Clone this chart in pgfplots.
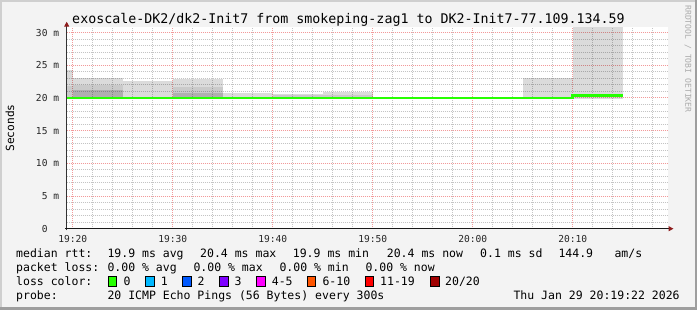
\documentclass[border=0pt]{standalone}
\usepackage{fontspec}
\setmainfont{DejaVu Sans Mono}
\usepackage{pgfplots}
\pgfplotsset{compat=1.18}
\usetikzlibrary{arrows.meta}

\definecolor{bgcol}{HTML}{F3F3F3}
\definecolor{lightframe}{HTML}{CFCFCF}
\definecolor{darkframe}{HTML}{9E9E9E}
\definecolor{majgrid}{HTML}{F29A9A}
\definecolor{mingrid}{HTML}{C4C4C4}
\definecolor{median}{HTML}{26FF00}
\definecolor{arrowred}{HTML}{8E1C1C}
\definecolor{wm}{HTML}{ABABAB}
\definecolor{lc0}{HTML}{26FF00}
\definecolor{lc1}{HTML}{00B8FF}
\definecolor{lc2}{HTML}{0059FF}
\definecolor{lc3}{HTML}{7E00FF}
\definecolor{lc4}{HTML}{FF00FF}
\definecolor{lc5}{HTML}{FF5500}
\definecolor{lc6}{HTML}{FF0000}
\definecolor{lc7}{HTML}{A00000}

\newcommand{\legfont}{\fontsize{11.5}{12}\selectfont}

\begin{document}
\begin{tikzpicture}
\begin{scope}[x=1pt,y=1pt]
\useasboundingbox (0,0) rectangle (697,310);
\fill[darkframe] (0,0) rectangle (697,310);
\fill[lightframe] (0,3) rectangle (695,310);
\fill[bgcol] (2,3) rectangle (695,308);
\end{scope}

\begin{axis}[
  at={(66.7pt,81.3pt)}, anchor=south west,
  scale only axis, width=601.3pt, height=201.4pt,
  xmin=-0.6, xmax=59.53, ymin=0, ymax=30.8,
  axis line style={draw=none},
  major tick length=0pt, minor tick length=0pt,
  tick style={draw=none},
  axis background/.style={fill=white},
  xtick={0,10,20,30,40,50},
  xticklabels={19:20,19:30,19:40,19:50,20:00,20:10},
  minor xtick={2,4,6,8,12,14,16,18,22,24,26,28,32,34,36,38,42,44,46,48,52,54,56,58},
  ytick={0,5,10,15,20,25,30},
  yticklabels={0\hphantom{\ m},5 m,10 m,15 m,20 m,25 m,30 m},
  minor ytick={1,2,3,4,6,7,8,9,11,12,13,14,16,17,18,19,21,22,23,24,26,27,28,29},
  grid=both,
  major grid style={draw=majgrid, line width=0.9pt, dash pattern=on 1pt off 1pt},
  minor grid style={draw=mingrid, line width=0.9pt, dash pattern=on 1pt off 1pt},
  tick label style={font=\fontsize{9.6}{10}\selectfont, text=black!85},
  xticklabel style={anchor=base, inner sep=0pt, yshift=-14.3pt},
  yticklabel style={anchor=east, inner sep=0pt, xshift=-7.4pt},
]
% smoke, outer (light) level
\addplot[fill=black, fill opacity=0.14, draw=none] coordinates {(-0.6,20.0) (0,20.0) (0,24.3) (-0.6,24.3)} -- cycle;
\addplot[fill=black, fill opacity=0.14, draw=none] coordinates {(0,20.0) (5,20.0) (5,23.0) (0,23.0)} -- cycle;
\addplot[fill=black, fill opacity=0.14, draw=none] coordinates {(5,20.2) (10,20.2) (10,22.6) (5,22.6)} -- cycle;
\addplot[fill=black, fill opacity=0.14, draw=none] coordinates {(10,20.0) (15,20.0) (15,22.9) (10,22.9)} -- cycle;
\addplot[fill=black, fill opacity=0.14, draw=none] coordinates {(15,20.2) (20,20.2) (20,20.7) (15,20.7)} -- cycle;
\addplot[fill=black, fill opacity=0.14, draw=none] coordinates {(20,20.2) (25,20.2) (25,20.6) (20,20.6)} -- cycle;
\addplot[fill=black, fill opacity=0.14, draw=none] coordinates {(25,20.2) (30,20.2) (30,20.95) (25,20.95)} -- cycle;
\addplot[fill=black, fill opacity=0.14, draw=none] coordinates {(45,20.0) (50,20.0) (50,23.0) (45,23.0)} -- cycle;
\addplot[fill=black, fill opacity=0.14, draw=none] coordinates {(50,19.8) (55,19.8) (55,30.8) (50,30.8)} -- cycle;
% smoke, middle level
\addplot[fill=black, fill opacity=0.075, draw=none] coordinates {(-0.6,20.0) (0,20.0) (0,21.8) (-0.6,21.8)} -- cycle;
\addplot[fill=black, fill opacity=0.075, draw=none] coordinates {(0,20.0) (5,20.0) (5,21.9) (0,21.9)} -- cycle;
\addplot[fill=black, fill opacity=0.075, draw=none] coordinates {(10,20.0) (15,20.0) (15,21.7) (10,21.7)} -- cycle;
\addplot[fill=black, fill opacity=0.075, draw=none] coordinates {(20,20.2) (25,20.2) (25,20.5) (20,20.5)} -- cycle;
\addplot[fill=black, fill opacity=0.075, draw=none] coordinates {(25,20.2) (30,20.2) (30,20.5) (25,20.5)} -- cycle;
% smoke, inner (dark) level
\addplot[fill=black, fill opacity=0.13, draw=none] coordinates {(0,20.0) (5,20.0) (5,21.15) (0,21.15)} -- cycle;
\addplot[fill=black, fill opacity=0.13, draw=none] coordinates {(10,20.0) (15,20.0) (15,20.7) (10,20.7)} -- cycle;
% median rtt
\addplot[const plot, draw=median, line width=2.5pt] coordinates {(-0.6,19.95) (50,20.4) (55,20.4)};
\end{axis}

\begin{scope}[x=1pt,y=1pt]
% axes with arrows
\draw[line width=1pt, draw=black!80, -{Triangle[length=5pt,width=5pt,color=arrowred]}] (66.7,79.5) -- (66.7,288.3);
\draw[line width=1pt, draw=black!90, -{Triangle[length=5pt,width=5pt,color=arrowred]}] (65,81.3) -- (673.5,81.3);

% title
\node[anchor=base, inner sep=0pt, font=\fontsize{13.3}{14}\selectfont] at (348.5,286) {exoscale-DK2/dk2-Init7 from smokeping-zag1 to DK2-Init7-77.109.134.59};

% y label
\node[rotate=90, inner sep=0pt, font=\fontsize{11.2}{12}\selectfont] at (10,182) {Seconds};

% watermark
\node[rotate=-90, inner sep=0pt, text=wm, font=\fontsize{8.1}{9}\selectfont] at (688,251) {RRDTOOL / TOBI OETIKER};

\begin{scope}[every node/.style={anchor=base west, inner sep=0pt, font=\legfont}]
% line 1
\node at (16,52.7) {median rtt:};
\node at (107.3,52.7) {19.9 ms avg};
\node at (200,52.7) {20.4 ms max};
\node at (292.7,52.7) {19.9 ms min};
\node at (386.7,52.7) {20.4 ms now};
\node at (480,52.7) {0.1 ms sd};
\node at (558.3,52.7) {144.9};
\node at (614.3,52.7) {am/s};
% line 2
\node at (16,38.3) {packet loss:};
\node at (107.3,38.3) {0.00 \% avg};
\node at (193.3,38.3) {0.00 \% max};
\node at (279.3,38.3) {0.00 \% min};
\node at (365.3,38.3) {0.00 \% now};
% line 3
\node at (16,24.3) {loss color:};
\node at (123.3,24.3) {0};
\node at (160.7,24.3) {1};
\node at (197.3,24.3) {2};
\node at (234.3,24.3) {3};
\node at (271.7,24.3) {4-5};
\node at (322.3,24.3) {6-10};
\node at (380,24.3) {11-19};
\node at (445,24.3) {20/20};
% line 4
\node at (16,10) {probe:};
\node at (107.3,10) {20 ICMP Echo Pings (56 Bytes) every 300s};
\node at (513.3,10) {Thu Jan 29 20:19:22 2026};
\end{scope}
% loss colour boxes
\foreach \bx/\bc in {108.3/lc0, 145.7/lc1, 182.7/lc2, 219.5/lc3, 256.8/lc4, 307.3/lc5, 365.3/lc6, 430.5/lc7}{
  \filldraw[fill=\bc, draw=black, line width=0.9pt] (\bx,24) rectangle ++(8.5,10);
}
\end{scope}
\end{tikzpicture}
\end{document}
